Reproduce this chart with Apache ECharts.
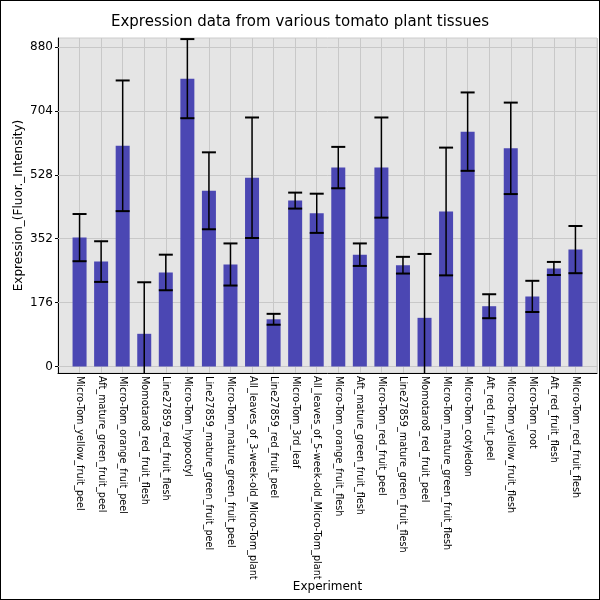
<!DOCTYPE html>
<html><head><meta charset="utf-8">
<script src="https://cdn.jsdelivr.net/npm/echarts@6/dist/echarts.min.js"></script>
<style>html,body{margin:0;padding:0;background:#fff}#c{width:600px;height:600px}</style>
</head><body><div id="c"></div>
<script>
const categories = [
  "Micro-Tom_yellow_fruit_peel","Aft_mature_green_fruit_peel","Micro-Tom_orange_fruit_peel",
  "Momotaro8_red_fruit_flesh","Line27859_red_fruit_flesh","Micro-Tom_hypocotyl",
  "Line27859_mature_green_fruit_peel","Micro-Tom_mature_green_fruit_peel",
  "All_leaves_of_3-week-old_Micro-Tom_plant","Line27859_red_fruit_peel","Micro-Tom_3rd_leaf",
  "All_leaves_of_5-week-old_Micro-Tom_plant","Micro-Tom_orange_fruit_flesh",
  "Aft_mature_green_fruit_flesh","Micro-Tom_red_fruit_peel","Line27859_mature_green_fruit_flesh",
  "Momotaro8_red_fruit_peel","Micro-Tom_mature_green_fruit_flesh","Micro-Tom_cotyledon",
  "Aft_red_fruit_peel","Micro-Tom_yellow_fruit_flesh","Micro-Tom_root","Aft_red_fruit_flesh",
  "Micro-Tom_red_fruit_flesh"
];
const values = [355,289,608,90,259,793,484,281,520,130,457,422,548,308,548,279,134,427,647,166,601,193,270,322];
const errors = [65,56,180,142,49,109,106,58,166,15,22,54,57,31,138,23,176,176,108,33,126,43,18,65];
const yTicks = [0,176,352,528,704,880];

const barData = values.map((v,i)=>[i,v]);
const errData = values.map((v,i)=>[i,v-errors[i],v+errors[i]]);

const chart = echarts.init(document.getElementById('c'));
chart.setOption({
  animation:false,
  backgroundColor:'#fff',
  title:{text:'Expression data from various tomato plant tissues',left:'center',top:10,
    textStyle:{fontFamily:'DejaVu Sans',fontSize:15,fontWeight:'normal',color:'#000'}},
  grid:{left:58,right:3,top:38,bottom:227,outerBoundsMode:'none',containLabel:false,show:true,
    backgroundColor:'#e5e5e5',borderColor:'#cccccc',borderWidth:1},
  graphic:[{type:'rect',shape:{x:0,y:0,width:600,height:600},style:{fill:'none',stroke:'#000',lineWidth:2},z:100,silent:true}],
  xAxis:{type:'value',min:-1,max:24,interval:1,
    name:'Experiment',nameLocation:'middle',nameGap:208,nameMoveOverlap:false,
    nameTextStyle:{fontFamily:'DejaVu Sans',fontSize:12,color:'#000'},
    axisLine:{onZero:false,lineStyle:{color:'#000',width:1}},
    axisTick:{show:false},
    splitLine:{show:true,lineStyle:{color:'#c8c8c8',width:1}},
    axisLabel:{rotate:-90,margin:3,fontFamily:'DejaVu Sans',fontSize:9.7,color:'#000',
      showMinLabel:true,showMaxLabel:true,
      formatter:v=>categories[v]||''}},
  yAxis:{type:'value',min:-18,max:905,
    name:'Expression_(Fluor._Intensity)',nameLocation:'middle',nameGap:33,nameMoveOverlap:false,
    nameTextStyle:{fontFamily:'DejaVu Sans',fontSize:12,color:'#000'},
    axisLine:{show:true,onZero:false,lineStyle:{color:'#000',width:1}},
    axisTick:{show:true,length:3,customValues:yTicks,lineStyle:{color:'#000'}},
    axisLabel:{customValues:yTicks,margin:5,fontFamily:'DejaVu Sans',fontSize:12,color:'#000'},
    splitLine:{show:false}},
  series:[
    {type:'line',data:[],z:1,silent:true,
      markLine:{silent:true,symbol:'none',label:{show:false},z:1,
        lineStyle:{color:'#c8c8c8',width:1,type:'solid'},
        data:yTicks.map(t=>({yAxis:t}))}},
    {type:'bar',data:barData,barWidth:14,itemStyle:{color:'#4b47b3'},z:2},
    {type:'custom',data:errData,z:3,
      renderItem:function(params,api){
        const cs0=params.coordSys;
        const bottom=cs0.y+cs0.height, top=cs0.y;
        const x=api.value(0);
        const lo=api.coord([x,api.value(1)]);
        const hi=api.coord([x,api.value(2)]);
        const hw=7;
        const st={stroke:'#000',lineWidth:1.5};
        const cs={stroke:'#000',lineWidth:2};
        const loY=Math.min(lo[1],bottom), hiY=Math.max(hi[1],top);
        const children=[{type:'line',shape:{x1:lo[0],y1:loY,x2:hi[0],y2:hiY},style:st}];
        if(hi[1]>=top) children.push({type:'line',shape:{x1:hi[0]-hw,y1:hi[1],x2:hi[0]+hw,y2:hi[1]},style:cs});
        if(lo[1]<=bottom) children.push({type:'line',shape:{x1:lo[0]-hw,y1:lo[1],x2:lo[0]+hw,y2:lo[1]},style:cs});
        return {type:'group',children:children};
      }}
  ]
});
</script></body></html>
